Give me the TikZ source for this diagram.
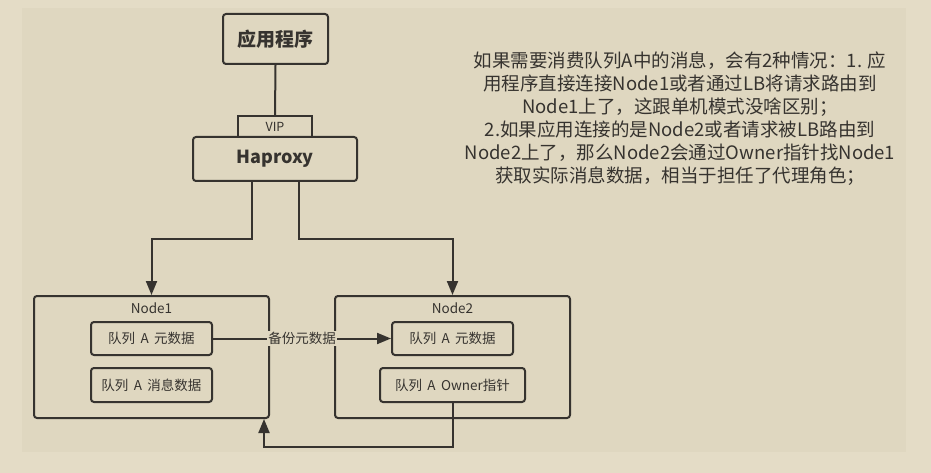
\documentclass[tikz,border=0pt]{standalone}
\usepackage{fontspec}
\setmainfont{Noto Sans CJK SC}
\usetikzlibrary{arrows.meta}
\definecolor{outerbg}{HTML}{E4DCC6}
\definecolor{panelbg}{HTML}{DFD7C0}
\definecolor{ink}{HTML}{36332F}
\newcommand{\gapsp}{\hspace{0.4em}}
\tikzset{
  box/.style={draw=ink, line width=2pt, rounded corners=3pt, text=ink, inner sep=0pt},
  conn/.style={draw=ink, line width=2pt},
  arr/.style={conn, -{Triangle[length=14pt,width=11pt]}},
  small/.style={font=\fontsize{13.5}{16}\selectfont},
}
\begin{document}
\begin{tikzpicture}[x=1pt,y=-1pt]
\fill[outerbg] (0,0) rectangle (931,473);
\fill[panelbg] (22,8) rectangle (906,452);
\useasboundingbox (0,0) rectangle (931,473);

% top
\node[box, minimum width=105pt, minimum height=50pt, font=\fontsize{19}{21}\selectfont\bfseries] (app) at (275.5,39) {应用程序};
\node[box, rounded corners=0pt, minimum width=74pt, minimum height=21pt, font=\fontsize{12.5}{14}\selectfont] (vip) at (275,126.5) {VIP};
\node[box, minimum width=164pt, minimum height=44pt, font=\fontsize{18}{20}\selectfont\bfseries, fill=panelbg] (hap) at (275,159) {Haproxy};
\draw[conn] (app.south) -- (vip.north);

% containers
\node[box, minimum width=235pt, minimum height=122pt] (n1) at (151.5,357) {};
\node[small, text=ink] (n1l) at (151.5,308) {Node1};
\node[box, minimum width=235pt, minimum height=122pt] (n2) at (452.5,357) {};
\node[small, text=ink] (n2l) at (452.5,308) {Node2};

\node[box, small, minimum width=121pt, minimum height=33pt] (m1) at (151.5,338.5) {队列\gapsp A\gapsp 元数据};
\node[box, small, minimum width=121pt, minimum height=34pt] (d1) at (151.5,385) {队列\gapsp A\gapsp 消息数据};
\node[box, small, minimum width=121pt, minimum height=33pt] (m2) at (452.5,338.5) {队列\gapsp A\gapsp 元数据};
\node[box, small, minimum width=145pt, minimum height=34pt] (o2) at (452.5,385) {队列\gapsp A\gapsp Owner指针};

% connectors
\draw[arr] ([xshift=-23pt]hap.south) -- ++(0,57) -| (n1.north);
\draw[arr] ([xshift=24pt]hap.south) -- ++(0,57) -| (n2.north);
\draw[arr] (m1.east) -- (m2.west) node[midway, fill=panelbg, inner sep=1pt, small, text=ink] (bk) {备份元数据};
\draw[arr] (o2.south) -- ++(0,44) -| ([xshift=-6pt]n1.south east);

% description
\node[text=ink, align=center, font=\fontsize{18.5}{23}\selectfont] (desc) at (680,118.5) {%
如果需要消费队列A中的消息，会有2种情况：1. 应\\
用程序直接连接Node1或者通过LB将请求路由到\\
Node1上了，这跟单机模式没啥区别；\\
2.如果应用连接的是Node2或者请求被LB路由到\\
Node2上了，那么Node2会通过Owner指针找Node1\\
获取实际消息数据，相当于担任了代理角色；};
\end{tikzpicture}
\end{document}
